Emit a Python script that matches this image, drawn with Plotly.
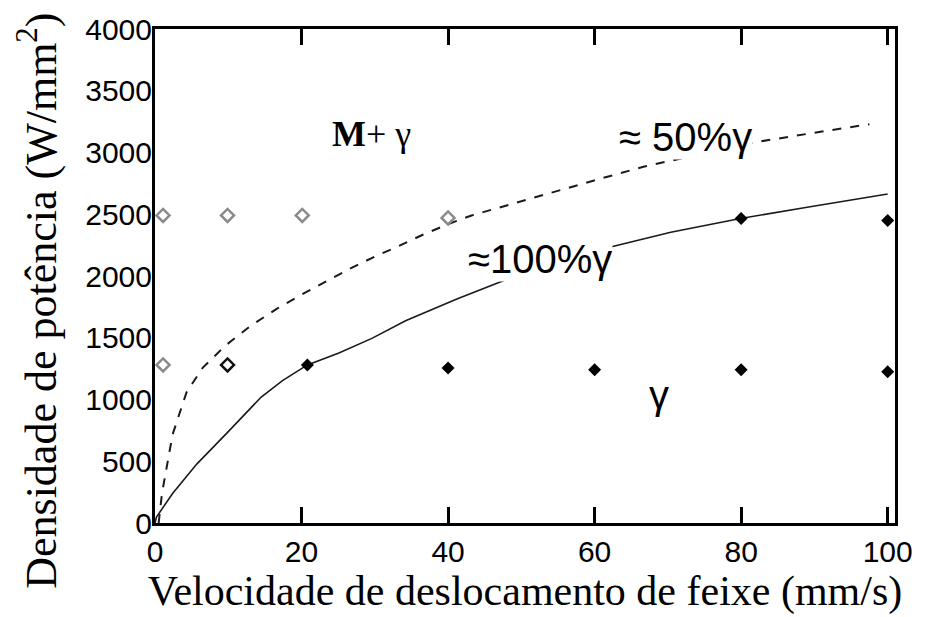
import plotly.graph_objects as go

# ---- data ----
x_ticks = [0, 20, 40, 60, 80, 100]
y_ticks = [0, 500, 1000, 1500, 2000, 2500, 3000, 3500, 4000]

curve50_x = [0.5, 0.95, 2.4, 4.3, 6.5, 9.5, 12.9, 16.6, 20.1, 23.4, 26.9, 30.2, 33.3,
             36.4, 40.0, 43.2, 46.9, 53.7, 60.5, 66.8, 75.0, 82.2, 90.0, 97.5]
curve50_y = [0, 239, 716, 1058, 1256, 1431, 1590, 1734, 1853, 1956, 2068, 2163, 2243,
             2330, 2420, 2490, 2553, 2672, 2783, 2887, 2990, 3086, 3160, 3229]

curve100_x = [0, 0.2, 2.4, 5.7, 10.0, 14.5, 17.4, 20.8, 25.1, 29.6, 34.2, 38.7, 41.2,
              50.0, 60.5, 70.4, 79.9, 88.6, 100.0]
curve100_y = [0, 48, 239, 477, 740, 1020, 1153, 1280, 1376, 1495, 1638, 1750, 1813,
              2020, 2211, 2354, 2465, 2553, 2664]

open_x = [1.1, 9.9, 20.1, 40.0, 1.1, 9.9]
open_y = [2490, 2490, 2490, 2470, 1280, 1280]
open_colors = ["#8a8a8a", "#8a8a8a", "#8a8a8a", "#8a8a8a", "#8a8a8a", "#111111"]

filled_x = [20.8, 40.0, 60.0, 80.0, 100.0, 80.0, 100.0]
filled_y = [1280, 1256, 1240, 1240, 1225, 2465, 2449]

labels = ["<b>M</b>+ γ", "≈ 50%γ", "≈100%γ", "γ"]
label_x = [29.6, 72.4, 52.6, 68.8]
label_y = [3151, 3125, 2140, 1036]

X_RANGE = [0, 101]
Y_RANGE = [0, 4000]

fig = go.Figure()
fig.add_trace(go.Scatter(x=curve50_x, y=curve50_y, mode="lines",
                         line=dict(color="#1a1a1a", width=2, dash="9px,9px")))
fig.add_trace(go.Scatter(x=curve100_x, y=curve100_y, mode="lines",
                         line=dict(color="#1a1a1a", width=1.6)))
fig.add_trace(go.Scatter(x=open_x, y=open_y, mode="markers",
                         marker=dict(symbol="diamond-open", size=10, color=open_colors,
                                     line=dict(width=2.5))))
fig.add_trace(go.Scatter(x=filled_x, y=filled_y, mode="markers",
                         marker=dict(symbol="diamond", size=10, color="black")))

fonts = ["Liberation Serif", "Liberation Sans", "Liberation Sans", "Liberation Sans"]
sizes = [36, 40, 40, 40]
for t, xx, yy, f, s in zip(labels, label_x, label_y, fonts, sizes):
    fig.add_annotation(x=xx, y=yy, text=t, showarrow=False, xanchor="center", yanchor="middle",
                       font=dict(family=f, size=s, color="black"), bgcolor="white", borderpad=0)

fig.add_annotation(xref="paper", yref="paper", x=-0.158, y=0.45,
                   text="Densidade de potência (W/mm<sup>2</sup>)",
                   textangle=-90, showarrow=False, xanchor="center", yanchor="middle",
                   font=dict(family="Liberation Serif", size=44, color="black"))

fig.update_layout(
    width=925, height=617,
    margin=dict(l=155, r=28, t=22, b=94),
    plot_bgcolor="white", paper_bgcolor="white",
    showlegend=False,
)
fig.update_xaxes(range=X_RANGE, tickmode="array", tickvals=x_ticks,
                 ticktext=[str(v) for v in x_ticks],
                 ticks="inside", ticklen=16, tickwidth=3, tickcolor="#000000",
                 showline=True, linewidth=3, linecolor="black", mirror="allticks",
                 showgrid=False, zeroline=False,
                 tickfont=dict(family="Liberation Sans", size=30, color="black"),
                 title=dict(text="Velocidade de deslocamento de feixe (mm/s)", standoff=6,
                            font=dict(family="Liberation Serif", size=42, color="black")))
fig.update_yaxes(range=Y_RANGE, tickmode="array", tickvals=y_ticks,
                 ticktext=[str(v) for v in y_ticks],
                 ticks="", showline=True, linewidth=3, linecolor="black", mirror=True,
                 showgrid=False, zeroline=False, ticklabelstandoff=-6,
                 tickfont=dict(family="Liberation Sans", size=30, color="black"))

fig.write_html("out.html")
